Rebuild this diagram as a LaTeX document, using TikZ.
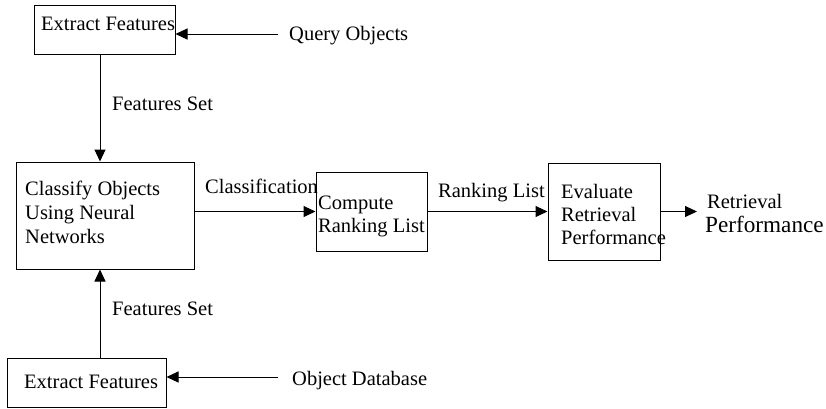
\documentclass[tikz,border=0pt]{standalone}
\usepackage{fontspec}
\setmainfont{Liberation Serif}
\usetikzlibrary{arrows.meta,calc}
\begin{document}
\begin{tikzpicture}[x=1pt,y=-1pt,
  box/.style={draw,line width=1pt,rectangle,inner sep=0pt},
  lbl/.style={anchor=base west,inner sep=0pt,font=\fontsize{20.5}{24}\selectfont},
  big/.style={anchor=base west,inner sep=0pt,font=\fontsize{23.2}{28}\selectfont},
  conn/.style={line width=1pt,-{Triangle[length=12pt,width=11pt]}},
  plain/.style={line width=1pt}]
\useasboundingbox (0,0) rectangle (826,408);
% boxes
\node[box,minimum width=141pt,minimum height=49pt] (b1) at (104.5,29.5) {};
\node[box,minimum width=178pt,minimum height=107pt] (b2) at (105,215.5) {};
\node[box,minimum width=111pt,minimum height=79pt] (b3) at (371.5,211.5) {};
\node[box,minimum width=112pt,minimum height=97pt] (b4) at (604,211.5) {};
\node[box,minimum width=159pt,minimum height=49pt] (b5) at (86.5,382.5) {};
% box texts
\node[lbl] (t1) at (41,30) {Extract Features};
\node[lbl] (t2a) at (25,195) {Classify Objects};
\node[lbl] (t2b) at (25,219.5) {Using Neural};
\node[lbl] (t2c) at (25,243) {Networks};
\node[lbl] (t3a) at (318,209) {Compute};
\node[lbl] (t3b) at (318,232) {Ranking List};
\node[lbl] (t4a) at (561,198) {Evaluate};
\node[lbl] (t4b) at (561,221) {Retrieval};
\node[lbl] (t4c) at (561,244) {Performance};
\node[lbl] (t5) at (24,388) {Extract Features};
% free labels
\node[lbl] (q) at (289,40) {Query Objects};
\node[lbl] (fs1) at (112,110) {Features Set};
\node[lbl] (fs2) at (112,315) {Features Set};
\node[lbl] (od) at (292,385) {Object Database};
\node[lbl] (cl) at (205,193) {Classification};
\node[lbl] (rl) at (438,197) {Ranking List};
\node[lbl] (rp1) at (707,208) {Retrieval};
\node[big] (rp2) at (705,232) {Performance};
% coordinates
\coordinate (vx) at (100,0);
\coordinate (qs) at (278,34);
\coordinate (os) at (278,377);
\coordinate (out) at (697,211.5);
% connectors
\draw[conn] (b1.south -| vx) -- (b2.north -| vx);
\draw[conn] (b5.north -| vx) -- (b2.south -| vx);
\draw[conn] (qs) -- (b1.east |- qs);
\draw[conn] (os) -- (b5.east |- os);
\draw[conn] (b2.east |- b3.west) -- (b3.west);
\draw[conn] (b3.east) -- (b4.west);
\draw[conn] (b4.east) -- (out);
\end{tikzpicture}
\end{document}
